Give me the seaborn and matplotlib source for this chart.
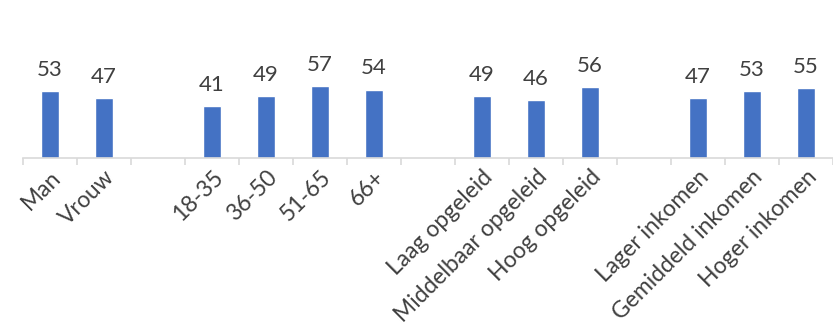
import numpy as np
import pandas as pd
import matplotlib
matplotlib.use('Agg')
import matplotlib.pyplot as plt
import seaborn as sns

# data
groups = ['Man', 'Vrouw', ' ', '18-35', '36-50', '51-65', '66+', '  ',
          'Laag opgeleid', 'Middelbaar opgeleid', 'Hoog opgeleid', '   ',
          'Lager inkomen', 'Gemiddeld inkomen', 'Hoger inkomen']
values = [53, 47, np.nan, 41, 49, 57, 54, np.nan,
          49, 46, 56, np.nan,
          47, 53, 55]

df = pd.DataFrame({'groep': groups, 'waarde': values})

sns.set_style('white')
plt.rcParams['font.family'] = ['Lato', 'DejaVu Sans']

fig = plt.figure(figsize=(8.33, 3.33), dpi=100)
ax = fig.add_axes([23 / 833, 175 / 333, 810 / 833, 152 / 333])

sns.barplot(data=df, x='groep', y='waarde', order=groups, color='#4472C4',
            width=0.33, saturation=1, ax=ax)

# value labels
for c in ax.containers:
    labels = ['' if np.isnan(v) else f'{int(v)}' for v in c.datavalues]
    ax.bar_label(c, labels=labels, padding=8, fontsize=16, color='#404040')

ax.set_ylim(0, 120)
ax.set_xlim(-0.5, len(groups) - 0.5)
ax.set_xlabel('')
ax.set_ylabel('')
ax.set_yticks([])

for s in ['top', 'right', 'left']:
    ax.spines[s].set_visible(False)
ax.spines['bottom'].set_color('#d9d9d9')
ax.spines['bottom'].set_linewidth(1.2)

ax.set_xticks(range(len(groups)))
ax.set_xticklabels([g.strip() for g in groups], rotation=45, ha='right',
                   rotation_mode='anchor', fontsize=16.5, color='#404040')
ax.tick_params(axis='x', which='major', length=0, pad=6)
ax.set_xticks(np.arange(-0.5, len(groups), 1), minor=True)
ax.tick_params(axis='x', which='minor', bottom=True, length=5,
               color='#d9d9d9', width=1.2)

fig.savefig('out.png', dpi=100)
